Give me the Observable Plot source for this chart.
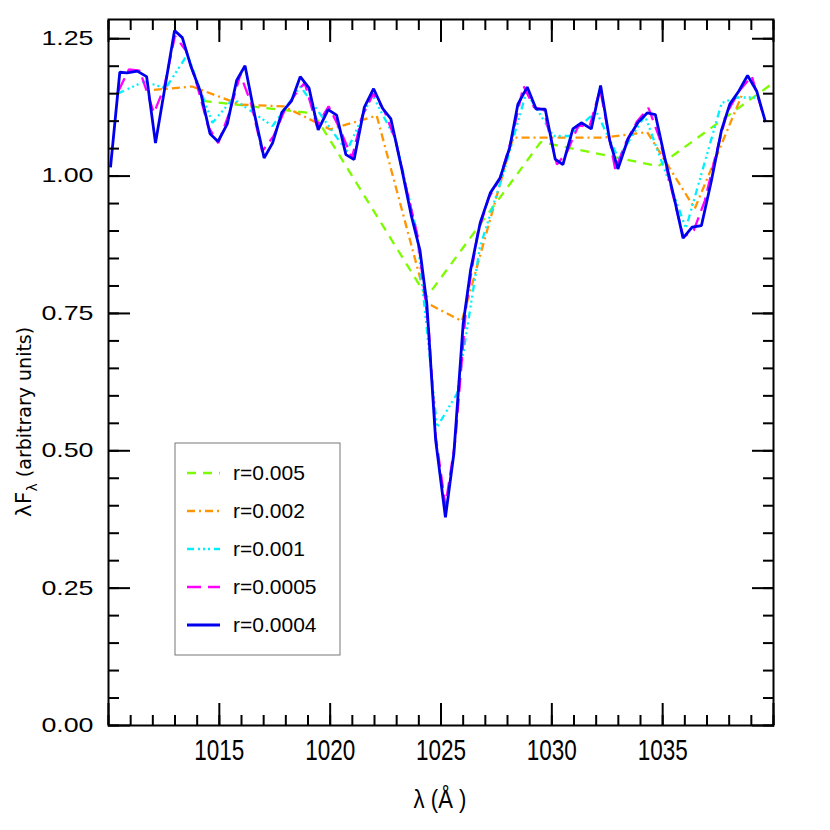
<!DOCTYPE html>
<html><head><meta charset="utf-8">
<script src="https://cdn.jsdelivr.net/npm/d3@7"></script>
<script src="https://cdn.jsdelivr.net/npm/@observablehq/plot@0.6"></script>
<style>body{margin:0;background:#fff} svg{display:block}</style>
</head><body><div id="chart"></div>
<script>
// ---------- data ----------
const seriesNames = ["r=0.005", "r=0.002", "r=0.001", "r=0.0005", "r=0.0004"];

const lambda_r005 = [1014.25, 1019.25, 1024.36, 1029.50, 1034.80, 1039.90];
const flux_r005   = [1.137, 1.114, 0.780, 1.062, 1.018, 1.167];

const lambda_r002 = [1012.05, 1013.77, 1015.96, 1017.90, 1020.00, 1022.10, 1024.36, 1025.94, 1028.25, 1030.30, 1032.30, 1034.30, 1036.45, 1038.56];
const flux_r002   = [1.157, 1.163, 1.130, 1.127, 1.085, 1.110, 0.769, 0.736, 1.070, 1.070, 1.070, 1.080, 0.941, 1.146];

const lambda_r001 = [1010.41, 1011.60, 1012.58, 1013.56, 1014.69, 1015.62, 1017.40, 1018.66, 1020.75, 1021.90, 1022.95, 1023.90, 1024.82, 1025.72, 1026.75, 1027.85, 1028.85, 1030.07, 1030.80, 1032.00, 1033.00, 1034.20, 1036.05, 1037.66, 1038.34, 1039.17];
const flux_r001   = [1.150, 1.172, 1.160, 1.221, 1.097, 1.141, 1.091, 1.163, 1.045, 1.148, 1.067, 0.900, 0.543, 0.604, 0.870, 1.010, 1.153, 1.073, 1.073, 1.118, 1.033, 1.110, 0.905, 1.133, 1.143, 1.143];

const lambda_r0005 = [1010.45, 1010.92, 1011.41, 1012.05, 1012.50, 1013.00, 1013.50, 1014.00, 1014.50, 1014.95,
  1015.45, 1015.95, 1016.45, 1016.93, 1017.45, 1017.95, 1018.45, 1018.85, 1019.40, 1019.93,
  1020.45, 1020.98, 1021.45, 1021.95, 1022.45, 1022.95, 1023.45, 1023.95, 1024.45, 1024.75,
  1025.20, 1025.65, 1026.15, 1026.65, 1027.15, 1027.65, 1028.20, 1028.72, 1029.20, 1029.63,
  1030.23, 1030.70, 1031.20, 1031.70, 1032.18, 1032.86, 1033.35, 1033.85, 1034.36, 1034.85,
  1035.40, 1035.94, 1036.40, 1036.90, 1037.40, 1037.90, 1038.45, 1039.02, 1039.55];
const flux_r0005 = [1.155, 1.194, 1.192, 1.115, 1.160, 1.255, 1.228, 1.165, 1.090, 1.060,
  1.115, 1.185, 1.130, 1.045, 1.073, 1.120, 1.150, 1.170, 1.091, 1.127,
  1.085, 1.033, 1.110, 1.150, 1.118, 1.065, 0.975, 0.890, 0.720, 0.530,
  0.400, 0.520, 0.770, 0.895, 0.960, 0.995, 1.070, 1.164, 1.125, 1.121,
  1.021, 1.045, 1.092, 1.090, 1.158, 1.012, 1.062, 1.100, 1.124, 1.070,
  0.975, 0.889, 0.901, 0.955, 1.040, 1.115, 1.155, 1.182, 1.109];

const lambda_r0004 = [1010.09, 1010.51, 1010.84, 1011.30, 1011.72, 1012.12, 1012.98, 1013.33, 1013.71, 1014.16,
  1014.58, 1014.94, 1015.36, 1015.78, 1016.16, 1016.60, 1017.02, 1017.40, 1017.82, 1018.26,
  1018.65, 1019.05, 1019.46, 1019.91, 1020.29, 1020.71, 1021.08, 1021.54, 1021.96, 1022.37,
  1022.74, 1023.22, 1023.65, 1024.05, 1024.36, 1024.76, 1025.20, 1025.58, 1026.00, 1026.34,
  1026.77, 1027.22, 1027.67, 1028.10, 1028.47, 1028.89, 1029.29, 1029.70, 1030.15, 1030.50,
  1030.95, 1031.33, 1031.78, 1032.20, 1032.61, 1032.98, 1033.44, 1033.89, 1034.30, 1034.67,
  1035.09, 1035.51, 1035.92, 1036.33, 1036.75, 1037.20, 1037.65, 1038.03, 1038.44, 1038.83,
  1039.24, 1039.64];
const flux_r0004 = [1.016, 1.189, 1.188, 1.191, 1.181, 1.060, 1.265, 1.252, 1.201, 1.152,
  1.077, 1.063, 1.095, 1.174, 1.201, 1.110, 1.033, 1.060, 1.116, 1.137,
  1.181, 1.160, 1.084, 1.121, 1.111, 1.039, 1.030, 1.125, 1.159, 1.123,
  1.104, 1.015, 0.930, 0.865, 0.768, 0.519, 0.379, 0.495, 0.731, 0.830,
  0.915, 0.969, 0.997, 1.052, 1.131, 1.162, 1.122, 1.122, 1.031, 1.021,
  1.086, 1.097, 1.086, 1.165, 1.065, 1.013, 1.068, 1.098, 1.115, 1.112,
  1.034, 0.962, 0.887, 0.907, 0.910, 0.992, 1.083, 1.131, 1.155, 1.183,
  1.155, 1.098];

const xTickLabels = [1015, 1020, 1025, 1030, 1035];
const xMajorTicks = [1010, 1015, 1020, 1025, 1030, 1035, 1040];
const xMinorTicks = d3.range(1010, 1041, 1);
const yTickLabels = [0, 0.25, 0.5, 0.75, 1.0, 1.25];
const yMinorTicks = d3.range(0, 1.28, 0.05);

// ---------- styles ----------
const seriesStyle = [
  {color: "#7cfc00", dash: "9,7", width: 2.3},
  {color: "#ff9500", dash: "8,4,2,4", width: 2.3},
  {color: "#00f0ff", dash: "7,4,2,3,2,3,2,4", width: 2.3},
  {color: "#ff00ff", dash: "14,7", width: 2.3},
  {color: "#0000ee", dash: null, width: 2.8}
];

const lambdas = [lambda_r005, lambda_r002, lambda_r001, lambda_r0005, lambda_r0004];
const fluxes = [flux_r005, flux_r002, flux_r001, flux_r0005, flux_r0004];
const tables = lambdas.map((L, s) => L.map((l, i) => ({lambda: l, flux: fluxes[s][i], series: seriesNames[s]})));

const font = "Liberation Sans, Arial, sans-serif";

const chart = Plot.plot({
  width: 830, height: 830,
  marginLeft: 108, marginRight: 57, marginTop: 19, marginBottom: 105,
  style: {fontFamily: font, background: "white", color: "black"},
  x: {domain: [1010, 1040]},
  y: {domain: [0, 1.285]},
  marks: [
    ...tables.map((t, s) => Plot.line(t, {
      x: "lambda", y: "flux",
      stroke: seriesStyle[s].color,
      strokeWidth: seriesStyle[s].width,
      strokeDasharray: seriesStyle[s].dash,
      strokeLinejoin: "miter", strokeLinecap: "butt"
    })),
    // bottom axis
    Plot.axisX(xMinorTicks, {anchor: "bottom", tickSize: -10, strokeWidth: 2, tickFormat: () => "", label: null}),
    Plot.axisX(xMajorTicks, {anchor: "bottom", tickSize: -22, strokeWidth: 2, tickFormat: () => "", label: null}),
    Plot.axisX(xTickLabels, {anchor: "bottom", tickSize: 0, tickPadding: 13, fontSize: 30, tickFormat: d => String(d), label: null}),
    // top axis
    Plot.axisX(xMinorTicks, {anchor: "top", tickSize: -10, strokeWidth: 2, tickFormat: () => "", label: null}),
    Plot.axisX(xMajorTicks, {anchor: "top", tickSize: -22, strokeWidth: 2, tickFormat: () => "", label: null}),
    // left axis
    Plot.axisY(yMinorTicks, {anchor: "left", tickSize: -11, strokeWidth: 2, tickFormat: () => "", label: null}),
    Plot.axisY(yTickLabels, {anchor: "left", tickSize: -22, strokeWidth: 2, tickFormat: () => "", label: null}),
    Plot.axisY(yTickLabels, {anchor: "left", tickSize: 0, tickPadding: 15, fontSize: 20, tickFormat: d3.format(".2f"), label: null}),
    // right axis
    Plot.axisY(yMinorTicks, {anchor: "right", tickSize: -11, strokeWidth: 2, tickFormat: () => "", label: null}),
    Plot.axisY(yTickLabels, {anchor: "right", tickSize: -22, strokeWidth: 2, tickFormat: () => "", label: null}),
    Plot.frame({strokeWidth: 2})
  ]
});

document.getElementById("chart").appendChild(chart);
const svg = d3.select(chart);

// stretch tick labels like the reference
function stretch(sel, sx) {
  sel.each(function () {
    const t = d3.select(this);
    let tr = t.attr("transform");
    if (!tr) {
      const x = +(t.attr("x") || 0), y = +(t.attr("y") || 0);
      t.attr("x", null).attr("y", null);
      tr = `translate(${x},${y})`;
    }
    t.attr("transform", tr + ` scale(${sx},1)`);
  });
}
svg.selectAll("g[aria-label='x-axis tick label'] text").filter(function(){ return d3.select(this).text() !== ""; }).call(stretch, 0.75);
svg.selectAll("g[aria-label='y-axis tick label'] text").filter(function(){ return d3.select(this).text() !== ""; }).call(stretch, 1.34);

// axis titles
svg.append("text")
  .attr("transform", "translate(440,808) scale(0.85,1)")
  .attr("text-anchor", "middle")
  .attr("font-family", font).attr("font-size", 26)
  .text("λ (Å )");

const yl = svg.append("text")
  .attr("transform", "translate(31,422) rotate(-90)")
  .attr("text-anchor", "middle")
  .attr("font-family", "DejaVu Sans, sans-serif").attr("font-size", 19);
yl.append("tspan").attr("font-size", 22).text("λF");
yl.append("tspan").attr("font-size", 14).attr("dy", 6).text("λ");
yl.append("tspan").attr("dy", -6).text(" (arbitrary units)");

// legend
const lg = svg.append("g").attr("text-anchor", "start");
lg.append("rect").attr("x", 175).attr("y", 443).attr("width", 165).attr("height", 212)
  .attr("fill", "white").attr("stroke", "#777").attr("stroke-width", 1);
seriesNames.forEach((name, i) => {
  const y = 473 + i * 38;
  lg.append("line").attr("x1", 187).attr("x2", 220).attr("y1", y).attr("y2", y)
    .attr("stroke", seriesStyle[i].color).attr("stroke-width", seriesStyle[i].width)
    .attr("stroke-dasharray", seriesStyle[i].dash);
  lg.append("text").attr("x", 233).attr("y", y).attr("dy", "0.35em")
    .attr("text-anchor", "start")
    .attr("font-family", font).attr("font-size", 21).text(name);
});
</script>
</body></html>
